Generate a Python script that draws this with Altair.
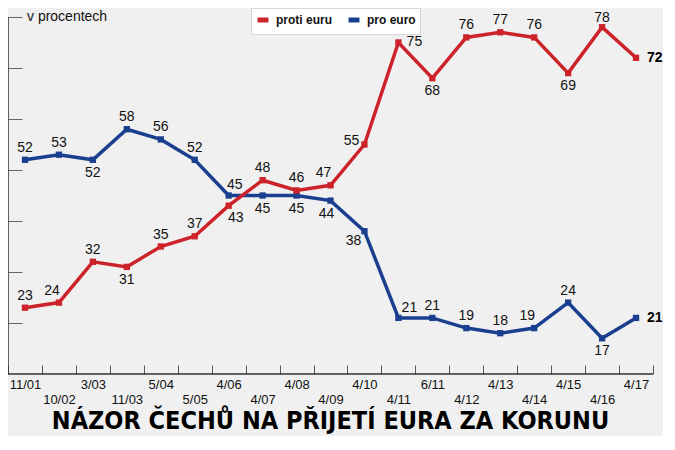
import altair as alt
import pandas as pd

cats = ["11/01", "10/02", "3/03", "11/03", "5/04", "5/05", "4/06", "4/07", "4/08", "4/09",
        "4/10", "4/11", "6/11", "4/12", "4/13", "4/14", "4/15", "4/16", "4/17"]
proti = [23, 24, 32, 31, 35, 37, 43, 48, 46, 47, 55, 75, 68, 76, 77, 76, 69, 78, 72]
pro = [52, 53, 52, 58, 56, 52, 45, 45, 45, 44, 38, 21, 21, 19, 18, 19, 24, 17, 21]
series_names = ["proti euru", "pro euro"]

# label placement codes (layout only)
proti_pos = ["t", "tl", "t", "b", "t", "t", "br", "t", "t", "tl", "l", "r", "b", "t", "t", "t", "b", "tt", "end"]
pro_pos = ["t", "t", "b", "t", "t", "t", "tr", "b", "b", "bl", "bl2", "tr2", "t", "t", "t", "tl", "t", "b", "end"]

RED = "#cc2229"
BLUE = "#1b3f8f"

rows = []
for c, v, p in zip(cats, proti, proti_pos):
    rows.append({"date": c, "series": series_names[0], "value": v, "pos": p})
for c, v, p in zip(cats, pro, pro_pos):
    rows.append({"date": c, "series": series_names[1], "value": v, "pos": p})
df = pd.DataFrame(rows)
one = pd.DataFrame({"k": [0]})

W, H = 645, 357
TOP = 9

cats_js = "[" + ",".join("'%s'" % c for c in cats) + "]"
x_enc = alt.X(
    "date:N", sort=cats, bandPosition=0.5,
    scale=alt.Scale(type="band", domain=cats, paddingInner=0, paddingOuter=0),
    axis=alt.Axis(title=None, domain=False, offset=-9, tickSize=9, tickBand="extent",
                  tickColor="#555", tickWidth=1, labelAngle=0, labelFontSize=13,
                  labelFont="Liberation Sans", labelColor="#111", labelPadding=4,
                  labelLineHeight=15, labelBaseline="top", grid=False,
                  labelExpr="indexof(%s, datum.value) %% 2 == 1 ? ['', datum.label] : datum.label" % cats_js),
)
y_enc = alt.Y(
    "value:Q",
    scale=alt.Scale(domain=[10, 80], nice=False, zero=False),
    axis=alt.Axis(values=[20, 30, 40, 50, 60, 70, 80], offset=-14, tickSize=14, domain=False,
                  labels=False, title=None, grid=False, tickColor="#666", tickWidth=1),
)
color_scale = alt.Scale(domain=series_names, range=[RED, BLUE])
legend = alt.Legend(title=None, orient="none", legendX=243, legendY=-TOP, direction="horizontal",
                    symbolType="stroke", symbolStrokeWidth=5, symbolSize=120,
                    labelFontSize=12, labelFontWeight="bold", labelFont="Liberation Sans",
                    labelColor="#111", fillColor="white", strokeColor="#d8d8d8",
                    padding=4, columnPadding=6, labelOffset=5)

base = alt.Chart(df)

lines = []
for s in [series_names[1], series_names[0]]:
    lines.append(
        base.transform_filter(alt.datum.series == s)
        .mark_line(strokeWidth=3.5)
        .encode(x=x_enc, y=y_enc, color=alt.Color("series:N", scale=color_scale, legend=legend))
    )
points = []
for s in [series_names[1], series_names[0]]:
    points.append(
        base.transform_filter(alt.datum.series == s)
        .mark_square(size=40, opacity=1)
        .encode(x=x_enc, y=y_enc, color=alt.Color("series:N", scale=color_scale, legend=None))
    )

place = {
    "t": (0, -12), "tt": (0, -9), "b": (0, 13), "tl": (-7, -12), "tr": (6, -11), "br": (7, 12),
    "bl": (-4, 13), "bl2": (-11, 10), "l": (-13, -4), "r": (16, -1), "tr2": (11, -10),
}
texts = []
for code, (dx, dy) in place.items():
    texts.append(
        base.transform_filter(alt.datum.pos == code)
        .mark_text(dx=dx, dy=dy, fontSize=14, font="Liberation Sans", color="#111", baseline="middle")
        .encode(x=x_enc, y=y_enc, text="value:Q")
    )
texts.append(
    base.transform_filter(alt.datum.pos == "end")
    .mark_text(dx=11, dy=0, fontSize=14, font="Liberation Sans", fontWeight="bold", color="#000",
               baseline="middle", align="left")
    .encode(x=x_enc, y=y_enc, text="value:Q")
)

frame_left = alt.Chart(one).mark_rule(color="#333", strokeWidth=1.5).encode(
    x=alt.value(0), y=alt.datum(80), y2=alt.datum(10))
frame_bottom = alt.Chart(one).mark_rule(color="#333", strokeWidth=1.5).encode(
    x=alt.value(0), x2=alt.value(W), y=alt.datum(10))
unit_label = alt.Chart(one).mark_text(align="left", baseline="middle", fontSize=14,
                                      font="Liberation Sans", color="#111").encode(
    x=alt.value(19), y=alt.datum(80), text=alt.value("v procentech"))

chart = alt.layer(frame_left, frame_bottom, *lines, *points, *texts, unit_label).properties(
    width=W, height=H,
    autosize="none",
    padding={"left": 0, "top": TOP, "right": 10, "bottom": 62},
    background="#f0f0f0",
    title=alt.TitleParams("NÁZOR ČECHŮ NA PŘIJETÍ EURA ZA KORUNU", orient="bottom", anchor="middle",
                          font="DejaVu Sans Condensed", fontSize=25, fontWeight="bold",
                          color="#000", offset=3),
).configure_view(stroke=None)

chart.save("out.html", embed_options={"renderer": "svg", "actions": False})
